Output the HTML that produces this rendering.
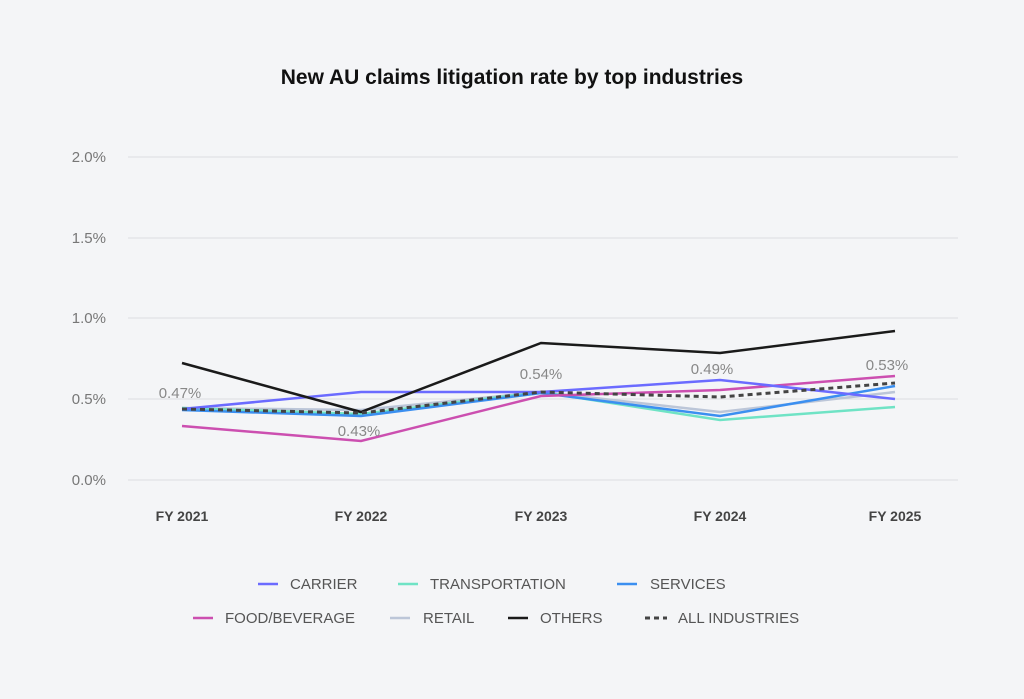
<!DOCTYPE html>
<html><head><style>
body{margin:0;background:#f4f5f7;font-family:"Liberation Sans",sans-serif;}
</style></head><body>
<svg width="1024" height="694" xmlns="http://www.w3.org/2000/svg">
<rect width="1024" height="694" fill="#f4f5f7"/>
<text x="512" y="84" text-anchor="middle" font-size="21" font-weight="bold" fill="#111" font-family="Liberation Sans, sans-serif">New AU claims litigation rate by top industries</text>
<g stroke="#dcdde0" stroke-width="1">
<line x1="128" y1="157" x2="958" y2="157"/><line x1="128" y1="238" x2="958" y2="238"/>
<line x1="128" y1="318" x2="958" y2="318"/><line x1="128" y1="399" x2="958" y2="399"/>
<line x1="128" y1="480" x2="958" y2="480"/>
</g>
<g font-size="15" fill="#777" text-anchor="end" font-family="Liberation Sans, sans-serif">
<text x="106" y="162">2.0%</text><text x="106" y="243">1.5%</text><text x="106" y="323">1.0%</text><text x="106" y="404">0.5%</text><text x="106" y="485">0.0%</text>
</g>
<g font-size="14" font-weight="bold" fill="#444" text-anchor="middle" font-family="Liberation Sans, sans-serif">
<text x="182" y="521">FY 2021</text><text x="361" y="521">FY 2022</text><text x="541" y="521">FY 2023</text><text x="720" y="521">FY 2024</text><text x="895" y="521">FY 2025</text>
</g>
<g fill="none" stroke-width="2.5">
<polyline stroke="#bcc6d8" points="182,408 361,410 541,392 720,412 895,392"/>
<polyline stroke="#6fe3c5" points="182,408 361,414 541,392 720,420 895,407"/>
<polyline stroke="#3b8ff0" points="182,410 361,416 541,393 720,416 895,386"/>
<polyline stroke="#cc4fb0" points="182,426 361,441 541,396 720,390 895,376"/>
<polyline stroke="#6b6bff" points="182,409 361,392 541,392 720,380 895,399"/>
<polyline stroke="#1a1a1a" points="182,363 361,412 541,343 720,353 895,331"/>
<polyline stroke="#444" stroke-dasharray="5,4" stroke-width="3" points="182,409 361,413 541,392 720,397 895,383"/>
</g>
<g font-size="15" fill="#888" text-anchor="middle" font-family="Liberation Sans, sans-serif">
<text x="180" y="398">0.47%</text><text x="359" y="436">0.43%</text><text x="541" y="379">0.54%</text><text x="712" y="374">0.49%</text><text x="887" y="370">0.53%</text>
</g>
<g font-size="15" fill="#555" font-family="Liberation Sans, sans-serif" stroke-width="2.5">
<line x1="258" y1="584" x2="278" y2="584" stroke="#6b6bff"/><text x="290" y="589">CARRIER</text>
<line x1="398" y1="584" x2="418" y2="584" stroke="#6fe3c5"/><text x="430" y="589">TRANSPORTATION</text>
<line x1="617" y1="584" x2="637" y2="584" stroke="#3b8ff0"/><text x="650" y="589">SERVICES</text>
<line x1="193" y1="618" x2="213" y2="618" stroke="#cc4fb0"/><text x="225" y="623">FOOD/BEVERAGE</text>
<line x1="390" y1="618" x2="410" y2="618" stroke="#bcc6d8"/><text x="423" y="623">RETAIL</text>
<line x1="508" y1="618" x2="528" y2="618" stroke="#1a1a1a"/><text x="540" y="623">OTHERS</text>
<line x1="645" y1="618" x2="667" y2="618" stroke="#444" stroke-dasharray="5,4" stroke-width="3"/><text x="678" y="623">ALL INDUSTRIES</text>
</g>
</svg>
</body></html>
